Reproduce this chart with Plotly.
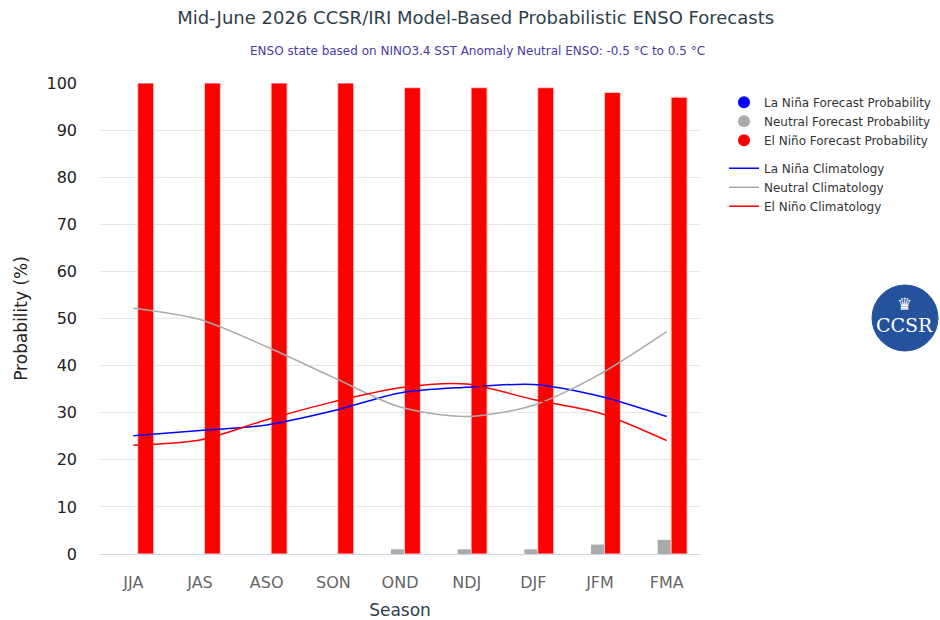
import plotly.graph_objects as go

seasons = ["JJA", "JAS", "ASO", "SON", "OND", "NDJ", "DJF", "JFM", "FMA"]
lanina_fc = [0, 0, 0, 0, 0, 0, 0, 0, 0]
neutral_fc = [0, 0, 0, 0, 1, 1, 1, 2, 3]
elnino_fc = [100, 100, 100, 100, 99, 99, 99, 98, 97]

lanina_clim = [25.1, 26.2, 27.4, 30.4, 34.2, 35.4, 36.0, 33.5, 29.2]
neutral_clim = [52.2, 49.8, 44.0, 37.5, 31.2, 29.2, 31.6, 38.2, 47.2]
elnino_clim = [23.1, 24.2, 28.5, 32.3, 35.3, 36.1, 32.8, 29.9, 24.1]

FONT = "DejaVu Sans"
fig = go.Figure()

# Bars (legend handled by marker entries below)
fig.add_trace(go.Bar(x=seasons, y=lanina_fc, marker_color="#0000ff", width=0.21, offset=-0.345,
                     marker_line_width=0, showlegend=False, name="La Niña Forecast Probability"))
fig.add_trace(go.Bar(x=seasons, y=neutral_fc, marker_color="#aaaaaa", width=0.2, offset=-0.135,
                     marker_line_width=0, showlegend=False, name="Neutral Forecast Probability"))
fig.add_trace(go.Bar(x=seasons, y=elnino_fc, marker_color="#ff0000", width=0.24, offset=0.066,
                     marker_line_color="rgba(255,210,210,1)", marker_line_width=1,
                     showlegend=False, name="El Niño Forecast Probability"))

# Legend entries for forecasts (circle markers)
for nm, col in [("La Niña Forecast Probability", "#0000ff"),
                ("Neutral Forecast Probability", "#aaaaaa"),
                ("El Niño Forecast Probability", "#ff0000")]:
    fig.add_trace(go.Scatter(x=[None], y=[None], mode="markers", name=nm,
                             marker=dict(color=col, size=12, symbol="circle"),
                             legendgroup="fc"))

# Climatology lines
for nm, vals, col in [("La Niña Climatology", lanina_clim, "#0000ff"),
                      ("Neutral Climatology", neutral_clim, "#aaaaaa"),
                      ("El Niño Climatology", elnino_clim, "#ff0000")]:
    fig.add_trace(go.Scatter(x=seasons, y=vals, mode="lines", name=nm,
                             line=dict(color=col, width=1.5, shape="spline", smoothing=0.8),
                             legendgroup="clim"))

fig.update_layout(
    width=940, height=620,
    margin=dict(l=100, r=240, t=83, b=66, autoexpand=False),
    paper_bgcolor="white", plot_bgcolor="white",
    barmode="overlay",
    font=dict(family=FONT, color="#333333"),
    title=dict(text="Mid-June 2026 CCSR/IRI Model-Based Probabilistic ENSO Forecasts",
               x=0.506, xanchor="center", y=0.972, yanchor="middle",
               font=dict(size=18, color="#2f3f4a", family=FONT)),
    legend=dict(x=1.04, y=0.99, xanchor="left", yanchor="top",
                font=dict(size=12, color="#333333", family=FONT),
                tracegroupgap=9, traceorder="grouped",
                itemwidth=30, bgcolor="rgba(0,0,0,0)"),
    xaxis=dict(showgrid=False, showline=True, linecolor="#ccd6eb", linewidth=1,
               ticks="", tickfont=dict(size=16, color="#666666", family=FONT),
               ticklabelstandoff=14,
               title=dict(text="Season", font=dict(size=17, color="#2f3f4a", family=FONT),
                          standoff=14)),
    yaxis=dict(range=[0, 100], tickvals=list(range(0, 101, 10)),
               showgrid=True, gridcolor="#e6e6e6", gridwidth=1, zeroline=False,
               showline=False, ticks="",
               tickfont=dict(size=16, color="#222222", family=FONT),
               ticklabelstandoff=22,
               title=dict(text="Probability (%)", font=dict(size=17, color="#222222", family=FONT),
                          standoff=14)),
)

fig.add_annotation(text="ENSO state based on NINO3.4 SST Anomaly Neutral ENSO: -0.5 °C to 0.5 °C",
                   xref="paper", yref="paper", x=(477 - 100) / 600, y=1 + (83 - 51) / 471,
                   xanchor="center", yanchor="middle", showarrow=False,
                   font=dict(size=12, color="#4a3aa0", family=FONT))

# CCSR logo (circle + text)
cx, cy, r = 905, 318, 33
def px(x):
    return (x - 100) / 600
def py(y):
    return (554 - y) / 471
fig.add_shape(type="circle", xref="paper", yref="paper",
              x0=px(cx - r), x1=px(cx + r), y0=py(cy + r), y1=py(cy - r),
              fillcolor="#24529c", line=dict(color="#24529c", width=1))
fig.add_annotation(text="CCSR", xref="paper", yref="paper", x=px(cx), y=py(cy + 7),
                   showarrow=False, xanchor="center", yanchor="middle",
                   font=dict(size=19, color="white", family="DejaVu Serif"))
fig.add_annotation(text="♛", xref="paper", yref="paper", x=px(cx), y=py(cy - 14),
                   showarrow=False, xanchor="center", yanchor="middle",
                   font=dict(size=17, color="white", family="DejaVu Sans"))

fig.write_html("out.html")
